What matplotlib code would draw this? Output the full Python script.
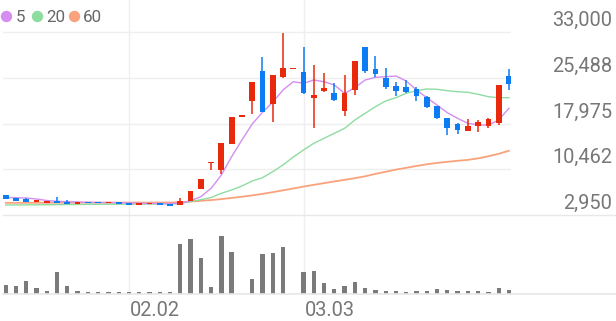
import matplotlib
matplotlib.use('Agg')
from matplotlib import pyplot as plt
from matplotlib.lines import Line2D

plt.rcParams['font.family'] = ['Roboto', 'DejaVu Sans']

# daily candles (KRW)
opens = [6185, 5692, 5528, 5134, 4970, 5249, 5085, 4806, 5035, 5085,
         4920, 5134, 4871, 4543, 4707, 4920, 4806, 4592, 5298, 7170,
         11450, 10339, 14609, 19060, 21670, 26646, 21227, 25660, 26900, 26432,
         22163, 23263, 23033, 20028, 23526, 30488, 26974, 25398, 24182, 23920,
         23690, 22376, 20849, 18928, 17893, 16744, 17565, 17614, 18107, 25775]
highs = [6200, 5800, 5692, 5450, 5150, 5857, 5364, 5050, 5060, 5100,
         5150, 5150, 4890, 4890, 4990, 4940, 4820, 5692, 6900, 8830,
         11490, 14750, 19100, 19100, 24760, 28944, 25950, 32787, 26925, 30488,
         27582, 26219, 24576, 25939, 28300, 30500, 29109, 27040, 24741, 25118,
         24018, 22450, 20900, 18950, 18000, 18763, 18550, 18800, 24300, 26875]
lows = [5560, 5200, 5100, 5100, 4950, 4900, 4790, 4790, 4860, 4860,
        4900, 4690, 4530, 4530, 4690, 4630, 4460, 4560, 5290, 7150,
        10339, 9683, 14600, 19050, 19486, 19900, 18271, 25398, 26900, 22819,
        17187, 23200, 21700, 19256, 22704, 26317, 25611, 23591, 22540, 23000,
        21670, 20600, 18665, 16087, 16202, 16700, 16530, 17187, 17680, 23476]
closes = [5577, 5249, 5134, 5413, 5134, 4920, 4806, 5035, 4871, 4871,
          5134, 4707, 4543, 4871, 4970, 4641, 4477, 5298, 6891, 8812,
          11489, 14724, 19092, 19092, 24741, 19913, 25939, 27040, 26925, 23033,
          22704, 23854, 21785, 23033, 28288, 26646, 26104, 24018, 23312, 23099,
          22540, 20685, 18928, 17236, 16908, 17614, 18222, 18763, 24248, 24412]

ma5 = [5824, 5791, 5742, 5577, 5331, 5200, 5134, 5085, 5035, 5003,
       5003, 4970, 4920, 4871, 4838, 4838, 4806, 4871, 5298, 5955,
       7334, 9518, 12523, 15266, 17893, 19814, 21456, 23476, 24839, 24576,
       25118, 24839, 24297, 22934, 23854, 25118, 25562, 25660, 25775, 24954,
       23476, 22212, 21012, 19749, 18829, 18008, 17729, 17729, 18550, 20471]
ma20 = [4590, 4600, 4610, 4620, 4640, 4650, 4670, 4680, 4700, 4710,
        4720, 4730, 4740, 4750, 4750, 4760, 4770, 4840, 5167, 5462,
        5824, 6513, 7055, 7712, 8533, 9075, 10060, 11161, 12474, 13624,
        14724, 15545, 16366, 17187, 18550, 19650, 20734, 21670, 22212, 22934,
        23361, 23640, 23591, 23361, 23197, 23099, 22770, 22376, 22212, 22212]
ma60 = [4950, 4950, 4960, 4960, 4960, 4970, 4970, 4970, 4980, 4980,
        4980, 4980, 4990, 4990, 4990, 5000, 5000, 5030, 5150, 5280,
        5400, 5560, 5750, 5950, 6170, 6420, 6700, 7000, 7300, 7620,
        7900, 8180, 8460, 8720, 9000, 9300, 9700, 10050, 10400, 10700,
        11000, 11280, 11500, 11680, 11850, 12000, 12250, 12600, 13000, 13500]

# volume (thousand shares)
volume = [900, 770, 1270, 570, 300, 2230, 770, 300, 230, 230,
          230, 200, 170, 170, 170, 170, 170, 4970, 5530, 3630,
          670, 5830, 4200, 30, 1500, 3970, 4130, 4730, 30, 2170,
          2300, 1100, 500, 830, 1170, 570, 370, 300, 270, 230,
          270, 300, 470, 400, 300, 270, 270, 200, 600, 400]

tick_idx = [12, 29]
tick_labels = ['02.02', '03.03']
price_levels = [33000, 25487.5, 17975, 10462.5, 2950]
price_labels = ['33,000', '25,488', '17,975', '10,462', '2,950']

RED = '#e8290b'
BLUE = '#0b7cf4'
C5, C20, C60 = '#d58ef0', '#8fdca0', '#f9a27c'
GRID = '#efefef'
TXT = '#777777'

W, H = 616, 321
fig = plt.figure(figsize=(W / 100, H / 100), dpi=100)

def fx(px):
    return px / W

def fy(py):
    return (H - py) / H

ax = fig.add_axes([fx(3), fy(215), fx(508), 215 / H])
vax = fig.add_axes([fx(3), fy(294), fx(508), 79 / H])

n = len(closes)
xs = list(range(n))
x0 = (3 - 5.7) / 10.27
x1 = (511 - 5.7) / 10.27
for a in (ax, vax):
    a.set_xlim(x0, x1)
    a.axis('off')
    for t in tick_idx:
        a.axvline(t, color=GRID, lw=1, zorder=0)

ax.set_ylim(2950, 38255)
for lv in price_levels[:-1]:
    ax.axhline(lv, color=GRID, lw=1, zorder=0)

# moving averages
ax.plot(xs, ma60, color=C60, lw=1.3, zorder=2)
ax.plot(xs, ma20, color=C20, lw=1.0, zorder=2)
ax.plot(xs, ma5, color=C5, lw=1.0, zorder=2)

# candles
for i in xs:
    o, h, l, c = opens[i], highs[i], lows[i], closes[i]
    col = RED if c >= o else BLUE
    ax.vlines(i, l, h, color=col, lw=1.1, zorder=3)
    body = max(abs(c - o), 230)
    ax.bar(i, body, bottom=min(o, c), width=0.56, color=col, lw=0, zorder=4)

# volume
vax.set_ylim(0, 7900)
vax.bar(xs, volume, width=0.42, color='#7a7a7a', lw=0, zorder=2)

# separator and baseline
fig.add_artist(Line2D([fx(3), 1], [fy(215), fy(215)], color='#e8e8e8', lw=1))
fig.add_artist(Line2D([fx(3), 1], [fy(294), fy(294)], color='#e8e8e8', lw=1.2))

# price labels on the right
for lv, lab in zip(price_levels, price_labels):
    py = 215 - (lv - 2950) / 30050 * 183
    fig.text(fx(612), fy(py - 6), lab, ha='right', va='baseline',
             fontsize=14.4, color=TXT)

# date labels
for t, lab in zip(tick_idx, tick_labels):
    px = 5.7 + 10.27 * t
    fig.text(fx(px + 1), fy(316.5), lab, ha='left', va='baseline',
             fontsize=14.4, color=TXT)

# legend
for cx, col, tx, lab in [(6, C5, 16, '5'), (37, C20, 46, '20'), (74, C60, 83, '60')]:
    fig.add_artist(Line2D([fx(cx)], [fy(15.5)], marker='o', markersize=7.2,
                          color=col, lw=0))
    fig.text(fx(tx), fy(21.7), lab, ha='left', va='baseline',
             fontsize=12.2, color='#666666')

fig.savefig('out.png', dpi=100)
